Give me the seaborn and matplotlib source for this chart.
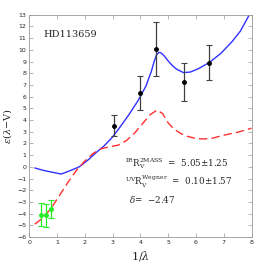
import numpy as np
import pandas as pd
import matplotlib
matplotlib.use('Agg')
import matplotlib.pyplot as plt
import seaborn as sns

# kurva fit (biru) dan kurva standar (merah putus-putus)
fit_x = [0.2, 0.5, 0.8, 1.15, 1.5, 1.8, 2.1, 2.4, 2.7, 3.0, 3.3, 3.6, 3.9, 4.2,
         4.4, 4.5, 4.58, 4.66, 4.74, 4.85, 5.0, 5.15, 5.3, 5.55, 5.8, 6.1, 6.5, 6.9,
         7.3, 7.6, 7.9]
fit_y = [-0.1, -0.3, -0.45, -0.62, -0.3, 0.0, 0.55, 1.2, 1.8, 2.55, 3.5, 4.5, 5.6, 6.9,
         8.2, 9.05, 9.55, 9.78, 9.75, 9.5, 9.05, 8.65, 8.35, 8.05, 8.1, 8.4, 8.95, 9.7,
         10.7, 11.6, 12.9]

std_x = [0.2, 0.5, 0.8, 1.1, 1.4, 1.7, 2.0, 2.3, 2.6, 2.9, 3.2, 3.5, 3.8, 4.1, 4.35,
         4.6, 4.8, 5.0, 5.2, 5.45, 5.7, 6.0, 6.3, 6.6, 7.0, 7.5, 8.0]
std_y = [-4.9, -4.35, -3.5, -2.4, -1.3, -0.3, 0.5, 1.15, 1.55, 1.72, 1.85, 2.25, 2.9,
         3.75, 4.45, 4.85, 4.55, 3.75, 3.25, 2.85, 2.6, 2.42, 2.38, 2.45, 2.7, 2.95, 3.3]

# titik observasi UV (hitam) dan IR (hijau)
uv_x = [3.05, 4.0, 4.57, 5.57, 6.48]
uv_y = [3.5, 6.3, 10.1, 7.25, 8.9]
uv_err = [0.9, 1.45, 2.3, 1.65, 1.5]

ir_x = [0.44, 0.61, 0.79]
ir_y = [-4.1, -4.15, -3.6]
ir_err = [0.97, 0.97, 0.8]

sns.set_style('ticks')
plt.rcParams['font.family'] = ['DejaVu Sans']
plt.rcParams['mathtext.fontset'] = 'dejavuserif'

fig = plt.figure(figsize=(2.66, 2.66), dpi=100)
ax = fig.add_axes([0.110, 0.109, 0.8355, 0.8357])

df_fit = pd.DataFrame({'x': fit_x, 'y': fit_y})
df_std = pd.DataFrame({'x': std_x, 'y': std_y})
sns.lineplot(data=df_fit, x='x', y='y', ax=ax, color='#3030ff', lw=1.0, sort=False)
sns.lineplot(data=df_std, x='x', y='y', ax=ax, color='#ff3030', lw=1.0, sort=False,
             dashes=False, linestyle=(0, (6, 3)))

ax.errorbar(uv_x, uv_y, yerr=uv_err, fmt='o', color='black', ecolor='#404040',
            ms=2.5, elinewidth=0.9, capsize=2, capthick=0.8)
ax.errorbar(ir_x, ir_y, yerr=ir_err, fmt='o', color='#22ee22', ecolor='#22ee22',
            ms=2.5, elinewidth=0.9, capsize=2, capthick=0.8)

ax.set_xlim(0, 8)
ax.set_ylim(-6, 13)
ax.set_xticks(range(0, 9))
ax.set_yticks(range(-6, 14))
ax.tick_params(direction='in', top=True, right=True, labelsize=4.5, length=3,
               width=0.5, color='#999999', pad=2)
for s in ax.spines.values():
    s.set_color('#999999')
    s.set_linewidth(0.6)

serif = ['DejaVu Serif']
ax.set_xlabel(r'1/$\lambda$', fontsize=8, family=serif, labelpad=3)
ax.set_ylabel(r'$\epsilon$($\lambda$$-$V)', fontsize=7, family=serif, labelpad=2)

ax.text(0.5, 11.3, 'HD113659', fontsize=7, family=serif, va='center')
ax.text(3.45, 0.25, r'$^{\rm IR}$R$_{\rm V}^{\rm 2MASS}$  =  5.05$\pm$1.25', fontsize=6.3,
        family=serif, va='center')
ax.text(3.45, -1.3, r'$^{\rm UV}$R$_{\rm V}^{\rm Wegner}$  =  0.10$\pm$1.57', fontsize=6.3,
        family=serif, va='center')
ax.text(3.6, -2.8, r'$\delta$=  $-$2.47', fontsize=6.3, family=serif, va='center')

fig.savefig('out.png', dpi=100)
